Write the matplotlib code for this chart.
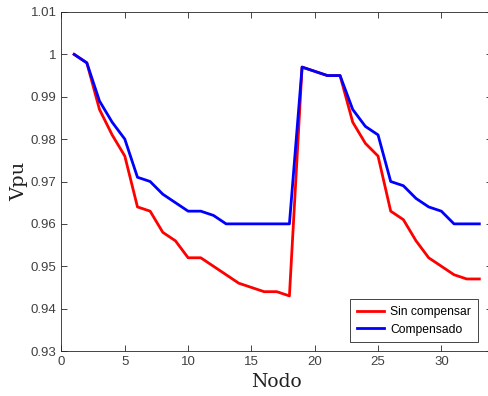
import numpy as np
import matplotlib
matplotlib.use('Agg')
import matplotlib.pyplot as plt
from matplotlib.ticker import FuncFormatter

# Tension por nodo (p.u.) en el sistema de 33 nodos
nodos = np.arange(1, 34)
v_sin = [1.000, 0.998, 0.987, 0.981, 0.976, 0.964, 0.963, 0.958, 0.956, 0.952,
         0.952, 0.950, 0.948, 0.946, 0.945, 0.944, 0.944, 0.943, 0.997, 0.996,
         0.995, 0.995, 0.984, 0.979, 0.976, 0.963, 0.961, 0.956, 0.952, 0.950,
         0.948, 0.947, 0.947]
v_comp = [1.000, 0.998, 0.989, 0.984, 0.980, 0.971, 0.970, 0.967, 0.965, 0.963,
          0.963, 0.962, 0.960, 0.960, 0.960, 0.960, 0.960, 0.960, 0.997, 0.996,
          0.995, 0.995, 0.987, 0.983, 0.981, 0.970, 0.969, 0.966, 0.964, 0.963,
          0.960, 0.960, 0.960]

GRAY = '#262626'

fig = plt.figure(figsize=(4.88, 3.96), dpi=100)
# los ejes llegan hasta x=34 y se salen un poco por la derecha
ax = fig.add_axes([61.5 / 488, 1 - 351 / 396, 430.5 / 488, 339 / 396])

ax.plot(nodos, v_sin, color='#ff0000', lw=2, label='Sin compensar')
ax.plot(nodos, v_comp, color='#0000ff', lw=2, label='Compensado')

ax.set_xlim(0, 34)
ax.set_ylim(0.93, 1.01)
ax.set_xticks(np.arange(0, 35, 5))
ax.set_yticks(np.arange(0.93, 1.0101, 0.01))
ax.yaxis.set_major_formatter(FuncFormatter(lambda v, p: f'{v:.2f}'.rstrip('0').rstrip('.')))

for s in ax.spines.values():
    s.set_color(GRAY)
    s.set_linewidth(0.6)
ax.tick_params(direction='in', top=True, right=True, length=4, width=0.6,
               colors=GRAY, labelsize=9.5, labelcolor='#404040')
for lbl in ax.get_xticklabels() + ax.get_yticklabels():
    lbl.set_family('Liberation Sans')

ax.set_xlabel('Nodo', family='DejaVu Serif', fontsize=13.5, color='#202020', labelpad=4)
ax.set_ylabel('Vpu', family='DejaVu Serif', fontsize=14, color='#202020', labelpad=2)

leg = ax.legend(loc='lower right', bbox_to_anchor=(0.9675, 0.026),
                prop={'family': 'Liberation Sans', 'size': 8.7},
                fancybox=False, framealpha=1, edgecolor=GRAY, handlelength=2.3,
                borderaxespad=0, borderpad=0.55, labelspacing=0.45, handletextpad=0.5)
leg.get_frame().set_linewidth(0.6)

fig.savefig('out.png', dpi=100, facecolor='white')
